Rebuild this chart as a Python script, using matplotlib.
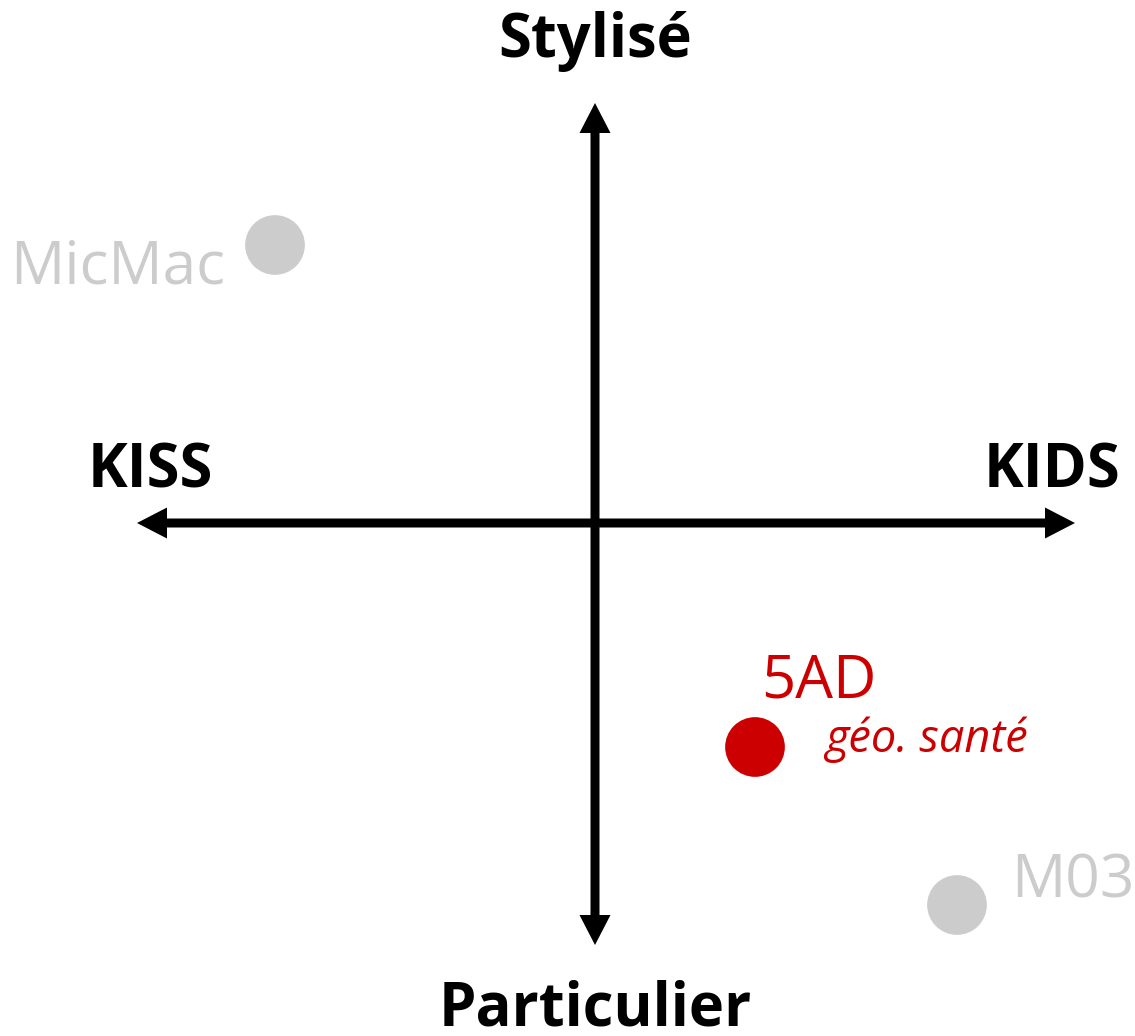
import matplotlib
matplotlib.use('Agg')
import matplotlib.pyplot as plt

# positionnement des sources (unites arbitraires, centre = croisement des axes)
noms = ['MicMac', '5AD', 'M03']
x_val = [-320, 160, 362]
y_val = [278, -224, -382]
couleurs = ['#cccccc', '#cc0000', '#cccccc']
sous_titres = ['', 'géo. santé', '']

axe_x = ['KISS', 'KIDS']
axe_y = ['Particulier', 'Stylisé']

plt.rcParams['font.family'] = ['Open Sans', 'DejaVu Sans']

fig = plt.figure(figsize=(11.35, 10.36), dpi=100)
ax = fig.add_axes([0, 0, 1, 1])
ax.set_xlim(-595, 540)
ax.set_ylim(-513, 523)
ax.axis('off')

# les deux axes fleches, tires depuis le centre
for dx, dy in [(-458, 0), (480, 0), (0, 420), (0, -422)]:
    ax.arrow(0, 0, dx, dy, width=9, head_width=31, head_length=30,
             length_includes_head=True, lw=0, color='black')

ax.text(-507, 35, axe_x[0], fontsize=43, fontweight='bold', ha='left', va='baseline')
ax.text(525, 35, axe_x[1], fontsize=43, fontweight='bold', ha='right', va='baseline')
ax.text(0, 466, axe_y[1], fontsize=43, fontweight='bold', ha='center', va='baseline')
ax.text(0, -503, axe_y[0], fontsize=43, fontweight='bold', ha='center', va='baseline')

ax.scatter(x_val, y_val, s=43**2, c=couleurs, linewidths=0, zorder=3)

# MicMac : etiquette a gauche
ax.text(x_val[0] - 50, y_val[0] - 38, noms[0], color=couleurs[0], fontsize=43.5,
        ha='right', va='baseline')
# 5AD : etiquette au-dessus + sous-titre
ax.text(x_val[1] + 6, y_val[1] + 50, noms[1], color=couleurs[1], fontsize=43,
        ha='left', va='baseline')
ax.text(x_val[1] + 70, y_val[1] - 5, sous_titres[1], color=couleurs[1], fontsize=32.5,
        style='italic', ha='left', va='baseline')
# M03 : etiquette a droite
ax.text(x_val[2] + 54, y_val[2] + 7, noms[2], color=couleurs[2], fontsize=43.5,
        ha='left', va='baseline')

fig.savefig('out.png', dpi=100)
